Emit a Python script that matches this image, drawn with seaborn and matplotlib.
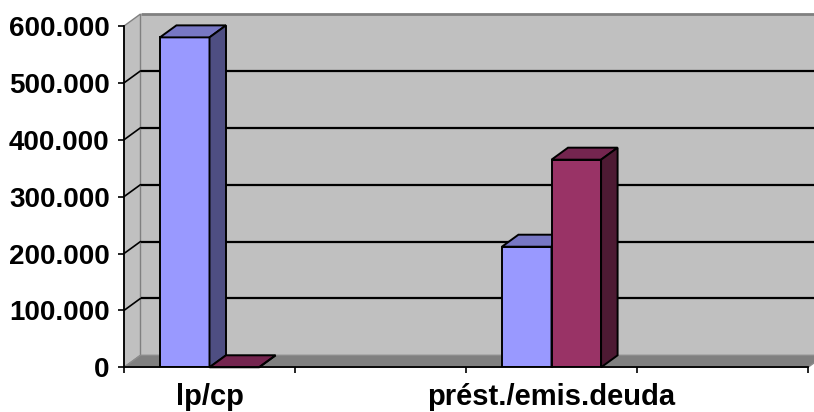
import numpy as np
import pandas as pd
import matplotlib
matplotlib.use("Agg")
import matplotlib.pyplot as plt
import seaborn as sns
from matplotlib.patches import Polygon
from matplotlib.ticker import FuncFormatter

# --- data -------------------------------------------------------------
categorias = ["lp/cp", " ", "prést./emis.deuda", "  "]
series = ["Serie1", "Serie2"]
serie1 = [580000, np.nan, 212000, np.nan]
serie2 = [0, np.nan, 365000, np.nan]
y_ticks = [0, 100000, 200000, 300000, 400000, 500000, 600000]

# --- colours (front, top, side) ----------------------------------------
front = {"Serie1": "#9999FF", "Serie2": "#993366"}
top = {"Serie1": "#7777C4", "Serie2": "#74254F"}
side = {"Serie1": "#4E4E82", "Serie2": "#4D1A33"}
wall_c = "#C0C0C0"
floor_c = "#808080"

df = pd.DataFrame({
    "categoria": categorias * 2,
    "serie": [series[0]] * 4 + [series[1]] * 4,
    "valor": serie1 + serie2,
}).dropna()

sns.set_style("ticks")
plt.rcParams["font.family"] = ["Liberation Sans", "DejaVu Sans"]
plt.rcParams["font.weight"] = "bold"

W, H = 814, 412
fig = plt.figure(figsize=(W / 100, H / 100), dpi=100)
fig.patch.set_facecolor("white")

x_left, x_right, y_zero, y_top = 124, 808, 367.3, 26
ax = fig.add_axes([x_left / W, (H - y_zero) / H,
                   (x_right - x_left) / W, (y_zero - y_top) / H])

edge_lw = 1.4
sns.barplot(data=df, x="categoria", y="valor", hue="serie",
            order=categorias, hue_order=series,
            palette=[front[s] for s in series],
            width=0.58, gap=0, dodge=True, legend=False,
            edgecolor="black", linewidth=edge_lw, saturation=1, ax=ax)

ymax = 600000
ax.set_xlim(-0.5, 3.5)
ax.set_ylim(0, ymax)
ax.patch.set_visible(False)

# depth offsets in data units
px_x = (x_right - x_left) / 4.0
px_y = (y_zero - y_top) / ymax
DX = 16.5 / px_x
DY = 12.0 / px_y

x0w, x1w = -0.5, 3.5
# back wall, side wall and floor
ax.add_patch(Polygon([(x0w + DX, DY), (x1w + 1, DY), (x1w + 1, ymax + DY), (x0w + DX, ymax + DY)],
                     closed=True, facecolor=wall_c, edgecolor="none", zorder=0.1, clip_on=False))
ax.add_patch(Polygon([(x0w, 0), (x0w + DX, DY), (x0w + DX, ymax + DY), (x0w, ymax)],
                     closed=True, facecolor=wall_c, edgecolor="#808080", linewidth=1.0,
                     zorder=0.2, clip_on=False))
ax.plot([x0w + DX, x1w + 1], [ymax + DY, ymax + DY], color="#808080", lw=2.0,
        zorder=0.3, clip_on=False, solid_capstyle="butt")
ax.add_patch(Polygon([(x0w, 0), (x1w, 0), (x1w + DX, DY), (x0w + DX, DY)],
                     closed=True, facecolor=floor_c, edgecolor="#8C8C8C", linewidth=1.0,
                     zorder=0.4, clip_on=False))
ax.plot([x1w + DX, x1w + 1], [DY, DY], color="#8C8C8C", lw=1.0, zorder=0.4, clip_on=False)

# gridlines on the back wall and the side wall
for v in y_ticks[1:-1]:
    ax.plot([x0w + DX, x1w + 1], [v + DY, v + DY], color="black", lw=1.6,
            zorder=0.5, clip_on=False, solid_capstyle="butt")
    ax.plot([x0w, x0w + DX], [v, v + DY], color="black", lw=1.2,
            zorder=0.5, clip_on=False)

# 3-D top and side faces for every bar
rev = {matplotlib.colors.to_hex(front[s]).lower(): s for s in series}
for p in list(ax.patches):
    if not isinstance(p, matplotlib.patches.Rectangle):
        continue
    fc = matplotlib.colors.to_hex(p.get_facecolor()).lower()
    if fc not in rev:
        continue
    s = rev[fc]
    z = 3 + series.index(s)
    x0, w, h = p.get_x(), p.get_width(), p.get_height()
    if not np.isfinite(h):
        continue
    p.set_zorder(z)
    ax.add_patch(Polygon([(x0, h), (x0 + w, h), (x0 + w + DX, h + DY), (x0 + DX, h + DY)],
                         closed=True, facecolor=top[s], edgecolor="black", linewidth=edge_lw,
                         zorder=z, clip_on=False, joinstyle="miter"))
    ax.add_patch(Polygon([(x0 + w, 0), (x0 + w + DX, DY), (x0 + w + DX, h + DY), (x0 + w, h)],
                         closed=True, facecolor=side[s], edgecolor="black", linewidth=edge_lw,
                         zorder=z, clip_on=False, joinstyle="miter"))

# axes, ticks and labels
for sp in ["top", "right"]:
    ax.spines[sp].set_visible(False)
for sp in ["left", "bottom"]:
    ax.spines[sp].set_color("black")
    ax.spines[sp].set_linewidth(1.3)
    ax.spines[sp].set_zorder(6)

ax.set_yticks(y_ticks)
ax.yaxis.set_major_formatter(FuncFormatter(lambda v, _: f"{v:,.0f}".replace(",", ".")))
ax.tick_params(axis="y", which="major", length=4.3, width=1.2, color="black",
               direction="out", pad=6.0, labelsize=20, labelcolor="black")

ax.set_xticks([-0.5, 0.5, 1.5, 2.5, 3.5], labels=[""] * 5)
ax.set_xticks(range(len(categorias)), labels=categorias, minor=True)
ax.tick_params(axis="x", which="major", length=4.3, width=1.2, color="black", direction="out")
ax.tick_params(axis="x", which="minor", length=0, pad=11, labelsize=21, labelcolor="black")
for t in ax.get_xticklabels(minor=True) + ax.get_yticklabels():
    t.set_fontweight("bold")

ax.set_xlabel("")
ax.set_ylabel("")

fig.savefig("out.png", dpi=100, facecolor="white")
